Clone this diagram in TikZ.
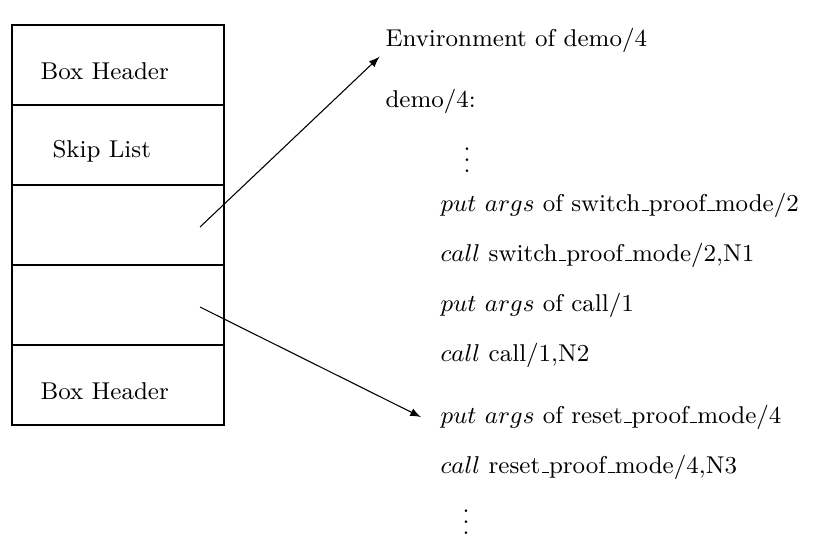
\documentclass[tikz,border=0pt]{standalone}
\usetikzlibrary{positioning, arrows}
\tikzstyle{arrow} = [->,>=latex]
\tikzstyle{cell} = [rectangle, draw=black, line width=1pt, minimum width=78.4pt, minimum height=29.6pt, inner sep=0pt, outer sep=0pt]
\tikzstyle{code} = [anchor=base west, inner sep=0pt]
\tikzstyle{gap} = [inner sep=0pt]
% short underscore of the old fonts
\newcommand{\usc}{\leavevmode\kern.06em\vbox{\hrule width.3em height.5pt}}

\begin{document}
\begin{tikzpicture}[x=0.37pt, y=-0.37pt, node distance=0pt, font=\fontsize{9}{11}\selectfont]
                \useasboundingbox (0,0) rectangle (814,536);
                % the stack of boxes
                \node (hdrtop) [cell] at (118,65) {};
                \node (skip) [cell, below=of hdrtop] {};
                \node (slotA) [cell, below=of skip] {};
                \node (slotB) [cell, below=of slotA] {};
                \node (hdrbot) [cell, below=of slotB] {};
                \node (hdrtoptxt) [code] at ([xshift=10.4pt, yshift=-5.3pt]hdrtop.west) {Box Header};
                \node (skiptxt) [code] at ([xshift=14.8pt, yshift=-4.8pt]skip.west) {Skip List};
                \node (hdrbottxt) [code] at ([xshift=10.4pt, yshift=-5.3pt]hdrbot.west) {Box Header};

                % the code listing
                \node (env) [code] at (385,46) {Environment of demo/4};
                \node (demo) [code] at (385,107) {demo/4:};
                \node (dotsA) [gap] at (467,152) {$\vdots$};
                \node (putA) [code] at (440,211) {$put\ args$ of switch\usc proof\usc mode/2};
                \node (callA) [code, below=of putA.base west, yshift=-18.5pt, anchor=base west] {$call$ switch\usc proof\usc mode/2,N1};
                \node (putB) [code, below=of callA.base west, yshift=-18.5pt, anchor=base west] {$put\ args$ of call/1};
                \node (callB) [code, below=of putB.base west, yshift=-18.5pt, anchor=base west] {$call$ call/1,N2};
                \node (putC) [code, below=of callB.base west, yshift=-23pt, anchor=base west] {$put\ args$ of reset\usc proof\usc mode/4};
                \node (callC) [code, below=of putC.base west, yshift=-18.5pt, anchor=base west] {$call$ reset\usc proof\usc mode/4,N3};
                \node (dotsB) [gap] at (466,514) {$\vdots$};

                \coordinate (fromA) at (200,227);
                \coordinate (fromB) at (200,307);
                \draw [arrow] (fromA) -- ([xshift=-2pt, yshift=-1.5pt]env.south west);
                \draw [arrow] (fromB) -- ([xshift=-7pt]putC.west);
                \end{tikzpicture}
\end{document}
